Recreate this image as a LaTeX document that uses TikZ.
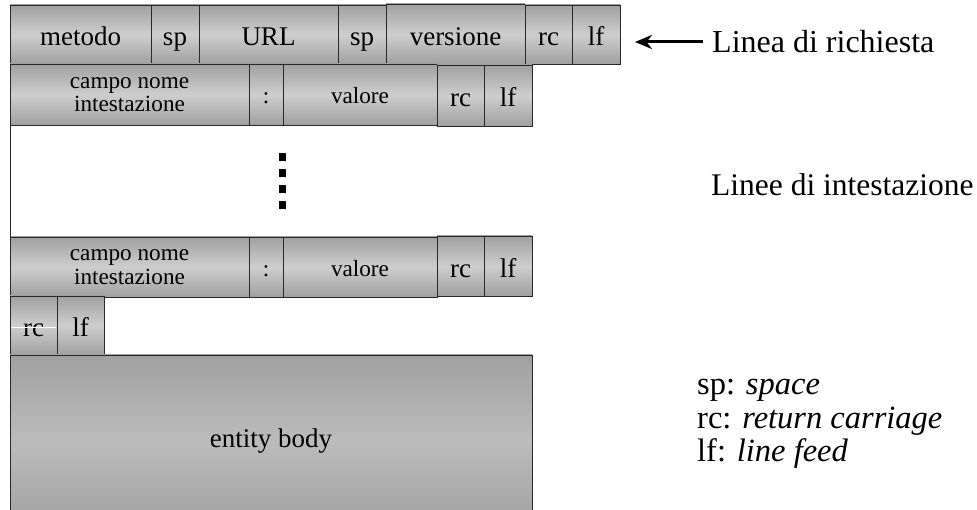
\documentclass[tikz,border=0pt]{standalone}
\usepackage{fontspec}
\setmainfont{Liberation Serif}
\usetikzlibrary{arrows.meta}
\definecolor{boxdark}{RGB}{160,160,160}
\definecolor{boxlight}{RGB}{206,206,206}
\definecolor{bodymid}{RGB}{188,188,188}
\definecolor{bordercol}{RGB}{40,40,40}
\tikzset{
  fldbase/.style={draw=bordercol, line width=0.8pt, top color=boxdark, bottom color=boxdark, middle color=boxlight,
    inner sep=0pt, outer sep=0pt, anchor=north west, align=center},
  fld/.style={fldbase, font=\fontsize{27}{29}\selectfont, text height=26pt, text depth=3pt},
  fldsmall/.style={fldbase, font=\fontsize{23.2}{23.5}\selectfont},
  fldone/.style={fldbase, font=\fontsize{23.2}{23.5}\selectfont, text height=21pt, text depth=2pt},
  bodybox/.style={fldbase, top color=boxdark, bottom color=boxdark, middle color=bodymid, font=\fontsize{27}{29}\selectfont},
  sqdot/.style={fill=black, inner sep=0pt, minimum size=7.5pt},
  lbl/.style={anchor=west, inner sep=0pt, font=\fontsize{32}{34}\selectfont},
  legend/.style={anchor=north west, inner sep=0pt, align=left, font=\fontsize{32.5}{33.5}\selectfont},
  arr/.style={line width=3pt, -{Stealth[length=17pt,width=14pt]}}
}
\begin{document}
\begin{tikzpicture}[x=1pt,y=-1pt]
\useasboundingbox (0,0) rectangle (977,510);
\clip (0,0) rectangle (977,510);
% row 1: request line
\node[fld, minimum width=141pt, minimum height=59pt] (metodo) at (10,5) {metodo};
\node[fld, minimum width=48pt, minimum height=59pt] (sp1) at (151,5) {sp};
\node[fld, minimum width=139pt, minimum height=59pt] (url) at (199,5) {URL};
\node[fld, minimum width=48pt, minimum height=59pt] (sp2) at (338,5) {sp};
\node[fld, minimum width=139pt, minimum height=60pt] (vers) at (386,4) {versione};
\node[fld, minimum width=47pt, minimum height=59pt] (rc1) at (525,5) {rc};
\node[fld, minimum width=48pt, minimum height=59pt] (lf1) at (572,5) {lf};
% row 2: header line
\node[fldsmall, minimum width=239pt, minimum height=61pt] (campoA) at (10,64) {campo nome\\intestazione};
\node[fldone, minimum width=34pt, minimum height=61pt] (colA) at (249,64) {:};
\node[fldone, minimum width=154pt, minimum height=61pt] (valA) at (283,64) {valore};
\node[fld, minimum width=47pt, minimum height=61pt] (rcA) at (437,65) {rc};
\node[fld, minimum width=48pt, minimum height=61pt] (lfA) at (484,65) {lf};
% row 3: header line
\node[fldsmall, minimum width=239pt, minimum height=60pt] (campoB) at (10,237) {campo nome\\intestazione};
\node[fldone, minimum width=34pt, minimum height=60pt] (colB) at (249,237) {:};
\node[fldone, minimum width=154pt, minimum height=60pt] (valB) at (283,237) {valore};
\node[fld, minimum width=47pt, minimum height=60pt] (rcB) at (437,236) {rc};
\node[fld, minimum width=48pt, minimum height=60pt] (lfB) at (484,236) {lf};
% row 4: empty line
\node[fld, minimum width=47pt, minimum height=59pt] (rcC) at (10,296) {rc};
\node[fld, minimum width=47pt, minimum height=59pt] (lfC) at (57,296) {lf};
\draw[white, line width=0.8pt] (11,327) -- (56,327);
% entity body
\node[bodybox, minimum width=522pt, minimum height=172pt] (body) at (10,355) {entity body};
% left vertical line between header rows
\draw[draw=bordercol, line width=0.8pt] (campoA.south west) -- (campoB.north west);
% dots
\node[sqdot] (d1) at (282.5,157) {};
\node[sqdot] (d2) at (282.5,173) {};
\node[sqdot] (d3) at (282.5,189) {};
\node[sqdot] (d4) at (282.5,205) {};
% right labels
\node[lbl] (lrich) at (712,42) {Linea di richiesta};
\coordinate (arrtip) at (635,42);
\draw[arr] ([xshift=-9pt]lrich.west) -- (arrtip);
\node[lbl, font=\fontsize{31.5}{33}\selectfont] (lint) at (711,185) {Linee di intestazione};
\node[legend] (leg) at (697,379) {sp: \textit{space}\\rc: \textit{return carriage}\\lf: \textit{line feed}};
\end{tikzpicture}
\end{document}
